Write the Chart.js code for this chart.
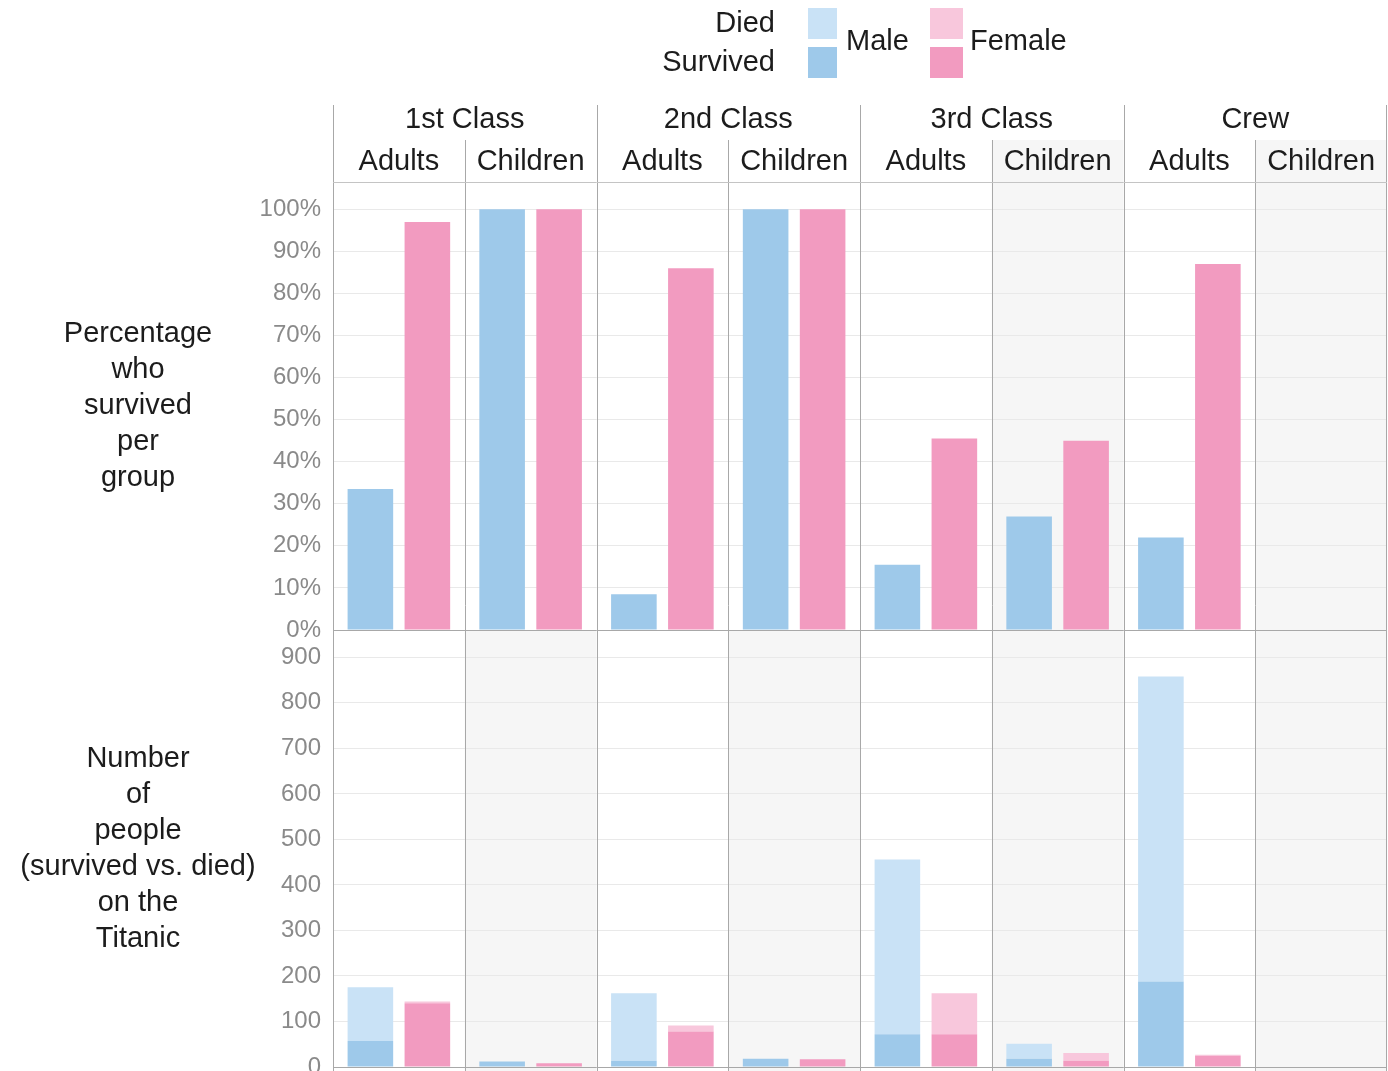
<!DOCTYPE html>
<html>
<head>
<meta charset="utf-8">
<title>Titanic survival by class, age and sex</title>
<script src="https://cdn.jsdelivr.net/npm/chart.js@4.4.1/dist/chart.umd.min.js"></script>
<style>
  html, body { margin: 0; padding: 0; background: #fff; overflow: hidden; }
  #wrap { position: relative; width: 1388px; height: 1071px; }
  canvas { display: block; }
</style>
</head>
<body>
<div id="wrap"><canvas id="chart" width="1388" height="1071"></canvas></div>
<script>
// ---- data -------------------------------------------------------------
const classes = ['1st Class', '2nd Class', '3rd Class', 'Crew'];
const ages = ['Adults', 'Children'];
const groups = classes.flatMap(c => ages.map(a => c + ' ' + a));

// share of each group that survived (%)
const pctMale   = [33.5, 100, 8.5, 100, 15.5, 27, 22, null];
const pctFemale = [97,   100, 86,  100, 45.5, 45, 87, null];

// head counts
const maleSurvived   = [57,  12, 14,  18, 72,  18, 188, null];
const maleDied       = [118, 0,  148, 0,  384, 33, 670, null];
const femaleSurvived = [140, 8,  78,  17, 72,  14, 24,  null];
const femaleDied     = [4,   0,  13,  0,  90,  17, 3,   null];

const pctTickValues = [0, 10, 20, 30, 40, 50, 60, 70, 80, 90, 100];
const countTickValues = [0, 100, 200, 300, 400, 500, 600, 700, 800, 900];

const pctTitle = ['Percentage', 'who', 'survived', 'per', 'group'];
const countTitle = ['Number', 'of', 'people', '(survived vs. died)', 'on the', 'Titanic'];

// panels drawn with a grey background (column indexes)
const shadedPct = [5, 7];
const shadedCount = [1, 3, 5, 7];

// ---- styles -----------------------------------------------------------
const FONT = '"Liberation Sans", Arial, Helvetica, sans-serif';
const C = {
  maleSurv: '#9ec9ea',
  maleDied: '#c9e2f6',
  femSurv: '#f29bc0',
  femDied: '#f8c7dc',
  text: '#1c1c1c',
  tick: '#8a8a8a',
  grid: '#e9e9e9',
  sep: '#a8a8a8',
  shade: '#f6f6f6'
};

function cellBounds(chart, i) {
  const x = chart.scales.x;
  const w = x.width / groups.length;
  const c = x.getPixelForValue(i);
  return [c - w / 2, c + w / 2];
}

const panelPlugin = {
  id: 'panels',
  beforeDraw(chart) {
    const { ctx } = chart;
    const yP = chart.scales.yPct, yC = chart.scales.yCnt;
    ctx.save();
    ctx.fillStyle = '#fff';
    ctx.fillRect(0, 0, chart.width, chart.height);
    ctx.fillStyle = C.shade;
    shadedPct.forEach(i => {
      const [l, r] = cellBounds(chart, i);
      ctx.fillRect(l, 140, r - l, yP.bottom - 140);
    });
    shadedCount.forEach(i => {
      const [l, r] = cellBounds(chart, i);
      ctx.fillRect(l, yC.top, r - l, chart.height - yC.top);
    });
    ctx.restore();
  },
  afterDraw(chart) {
    const { ctx, chartArea } = chart;
    const yP = chart.scales.yPct, yC = chart.scales.yCnt;
    const n = groups.length;
    ctx.save();

    // separators
    ctx.strokeStyle = C.sep;
    ctx.lineWidth = 1;
    for (let i = 0; i <= n; i++) {
      let xPos;
      if (i < n) xPos = cellBounds(chart, i)[0];
      else xPos = cellBounds(chart, n - 1)[1] - 1;
      const top = (i % 2 === 0) ? 105 : 140;
      ctx.beginPath();
      ctx.moveTo(Math.round(xPos) + 0.5, top);
      ctx.lineTo(Math.round(xPos) + 0.5, chart.height);
      ctx.stroke();
    }
    ctx.strokeStyle = '#c4c4c4';
    ctx.beginPath();
    ctx.moveTo(chartArea.left, Math.round(chartArea.top) + 0.5);
    ctx.lineTo(chartArea.right, Math.round(chartArea.top) + 0.5);
    ctx.stroke();
    ctx.strokeStyle = C.sep;
    [yP.bottom, yC.bottom].forEach(y => {
      ctx.beginPath();
      ctx.moveTo(chartArea.left, Math.round(y) + 0.5);
      ctx.lineTo(chartArea.right, Math.round(y) + 0.5);
      ctx.stroke();
    });

    // column headers
    ctx.fillStyle = C.text;
    ctx.font = '29px ' + FONT;
    ctx.textAlign = 'center';
    ctx.textBaseline = 'middle';
    classes.forEach((c, k) => {
      const l = cellBounds(chart, k * 2)[0];
      const r = cellBounds(chart, k * 2 + 1)[1];
      ctx.fillText(c, (l + r) / 2, 120);
    });
    groups.forEach((g, i) => {
      const [l, r] = cellBounds(chart, i);
      ctx.fillText(ages[i % 2], (l + r) / 2, 162);
    });

    // row titles
    const drawTitle = (lines, scale) => {
      const lh = 36;
      const mid = (scale.top + scale.bottom) / 2;
      const start = mid - (lines.length - 1) * lh / 2;
      lines.forEach((t, j) => ctx.fillText(t, 138, start + j * lh));
    };
    drawTitle(pctTitle, yP);
    drawTitle(countTitle, yC);

    // legend
    ctx.textAlign = 'right';
    ctx.fillText('Died', 775, 24);
    ctx.fillText('Survived', 775, 63);
    ctx.fillStyle = C.maleDied; ctx.fillRect(808, 8, 29, 31);
    ctx.fillStyle = C.maleSurv; ctx.fillRect(808, 47, 29, 31);
    ctx.fillStyle = C.femDied;  ctx.fillRect(930, 8, 33, 31);
    ctx.fillStyle = C.femSurv;  ctx.fillRect(930, 47, 33, 31);
    ctx.fillStyle = C.text;
    ctx.textAlign = 'left';
    ctx.fillText('Male', 846, 42);
    ctx.fillText('Female', 970, 42);
    ctx.restore();
  }
};

const fixAxisBox = s => {
  s.width = 100;
  s.paddingTop = 0; s.paddingBottom = 0; s.paddingLeft = 0; s.paddingRight = 0;
};

const tickStyle = { color: C.tick, font: { family: FONT, size: 24 }, padding: 12, autoSkip: false };

new Chart(document.getElementById('chart'), {
  type: 'bar',
  data: {
    labels: groups,
    datasets: [
      { label: 'Male survived (%)', data: pctMale, yAxisID: 'yPct', stack: 'm', backgroundColor: C.maleSurv },
      { label: 'Female survived (%)', data: pctFemale, yAxisID: 'yPct', stack: 'f', backgroundColor: C.femSurv },
      { label: 'Male survived', data: maleSurvived, yAxisID: 'yCnt', stack: 'm', backgroundColor: C.maleSurv },
      { label: 'Male died', data: maleDied, yAxisID: 'yCnt', stack: 'm', backgroundColor: C.maleDied },
      { label: 'Female survived', data: femaleSurvived, yAxisID: 'yCnt', stack: 'f', backgroundColor: C.femSurv },
      { label: 'Female died', data: femaleDied, yAxisID: 'yCnt', stack: 'f', backgroundColor: C.femDied }
    ]
  },
  options: {
    responsive: false,
    animation: false,
    devicePixelRatio: 1,
    categoryPercentage: 0.865,
    barPercentage: 0.8,
    borderWidth: 0,
    layout: { padding: { top: 182, left: 233, right: 1, bottom: 4 } },
    plugins: { legend: { display: false }, tooltip: { enabled: false } },
    scales: {
      x: { type: 'category', display: false, offset: true, grid: { display: false } },
      yCnt: {
        type: 'linear', position: 'left', stack: 'rows', stackWeight: 437, stacked: true,
        min: 0, max: 960,
        afterBuildTicks: s => { s.ticks = countTickValues.map(v => ({ value: v })); },
        afterFit: fixAxisBox,
        grid: { color: C.grid, drawTicks: false },
        border: { display: false },
        ticks: { ...tickStyle }
      },
      yPct: {
        type: 'linear', position: 'left', stack: 'rows', stackWeight: 448,
        min: 0, max: 106.5,
        afterBuildTicks: s => { s.ticks = pctTickValues.map(v => ({ value: v })); },
        afterFit: fixAxisBox,
        grid: { color: C.grid, drawTicks: false },
        border: { display: false },
        ticks: { ...tickStyle, callback: v => v + '%' }
      }
    }
  },
  plugins: [panelPlugin]
});
</script>
</body>
</html>
